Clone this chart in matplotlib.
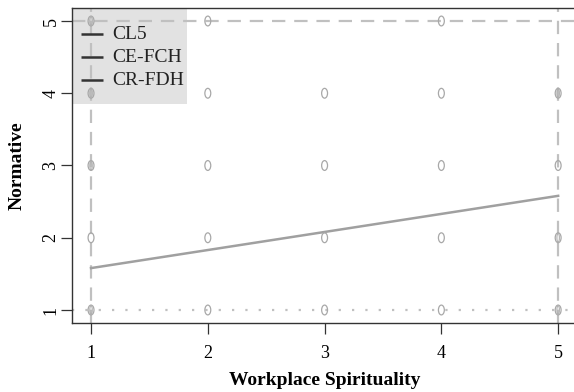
import matplotlib
matplotlib.use('Agg')
import matplotlib.pyplot as plt
from matplotlib.markers import MarkerStyle
from matplotlib.transforms import Affine2D
from matplotlib.patches import Rectangle

plt.rcParams['font.family'] = ['Liberation Serif', 'DejaVu Serif']

# observed (x, y) response combinations
pts_x = [1, 2, 4,
         1, 2, 3, 4, 5,
         1, 2, 3, 4, 5,
         1, 2, 3, 4, 5,
         1, 2, 3, 4, 5]
pts_y = [5, 5, 5,
         4, 4, 4, 4, 4,
         3, 3, 3, 3, 3,
         2, 2, 2, 2, 2,
         1, 1, 1, 1, 1]
# points drawn twice (overlapping, look darker)
dup_x = [1, 1, 1, 5, 5, 5, 1]
dup_y = [4, 3, 1, 4, 2, 1, 5]

fit_x = [1, 5]
fit_y = [1.58, 2.58]

ticks = [1, 2, 3, 4, 5]
legend_labels = ['CL5', 'CE-FCH', 'CR-FDH']

W, H = 574, 392
fig = plt.figure(figsize=(W / 100, H / 100), dpi=100)
ax = fig.add_axes([72 / W, (H - 323) / H, 506 / W, 315 / H])

ax.set_xlim(0.837, 5.17)
ax.set_ylim(0.82, 5.18)

ell = MarkerStyle('o', transform=Affine2D().scale(0.6, 1.0))
ax.scatter(pts_x, pts_y, marker=ell, s=50, facecolors='none',
           edgecolors='#a8a8a8', linewidths=0.9, zorder=3)
ax.scatter(dup_x, dup_y, marker=MarkerStyle('o', transform=Affine2D().scale(0.25, 0.9)),
           s=50, facecolors='none', edgecolors='#b0b0b0', linewidths=0.8, zorder=3)

# reference lines
ax.axvline(1, color='#c0c0c0', ls=(0, (6, 4)), lw=1.6, zorder=2)
ax.axvline(5, color='#c0c0c0', ls=(0, (6, 4)), lw=1.6, zorder=2)
ax.axhline(5, color='#c0c0c0', ls=(0, (6, 4)), lw=1.6, zorder=2)
ax.axhline(1, color='#c0c0c0', ls=(0, (1, 5)), lw=1.6, zorder=2)

ax.plot(fit_x, fit_y, color='#a0a0a0', lw=1.8, zorder=2)

ax.set_xticks(ticks)
ax.set_yticks(ticks)
ax.set_yticklabels([str(t) for t in ticks], rotation=90, va='center')
ax.tick_params(direction='out', length=8, width=0.9, labelsize=13, color='#333333')
ax.tick_params(axis='x', pad=8)
ax.tick_params(axis='y', pad=1)
ax.spines['right'].set_visible(False)
for s in ['left', 'top', 'bottom']:
    ax.spines[s].set_color('#333333')
    ax.spines[s].set_linewidth(1.0)

ax.set_xlabel('Workplace Spirituality', fontsize=14, fontweight='bold', labelpad=7)
ax.set_ylabel('Normative', fontsize=14, fontweight='bold', labelpad=12)

# legend box drawn by hand so the reference lines show through it
ax.add_patch(Rectangle((0, 0.695), 0.227, 0.305, transform=ax.transAxes,
                       facecolor='#e2e2e2', edgecolor='none', zorder=1, clip_on=False))
leg_y = [0.917, 0.844, 0.771]
for lab, yy in zip(legend_labels, leg_y):
    ax.plot([0.018, 0.061], [yy, yy], transform=ax.transAxes, color='#333333',
            lw=1.8, solid_capstyle='butt', zorder=4)
    ax.text(0.079, yy, lab, transform=ax.transAxes, fontsize=14, va='center',
            ha='left', color='#222222', zorder=4)

fig.savefig('out.png', dpi=100)
